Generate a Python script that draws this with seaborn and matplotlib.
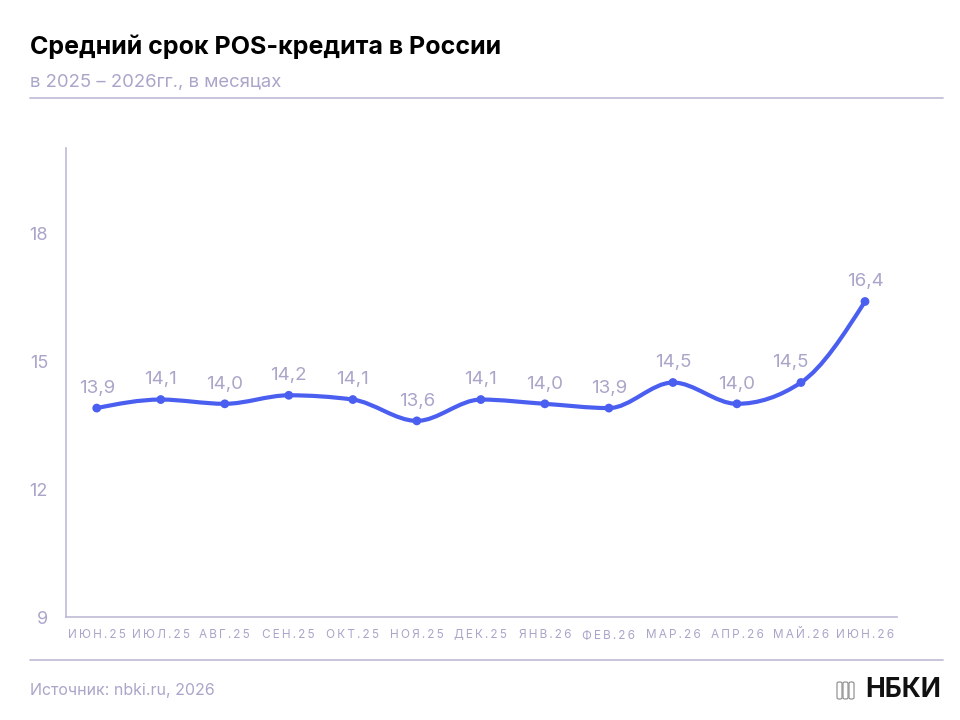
import numpy as np
import pandas as pd
import seaborn as sns
import matplotlib.pyplot as plt
from matplotlib.path import Path
from matplotlib.patches import PathPatch, FancyBboxPatch

# data
months = ['ИЮН.25', 'ИЮЛ.25', 'АВГ.25', 'СЕН.25', 'ОКТ.25', 'НОЯ.25', 'ДЕК.25',
          'ЯНВ.26', 'ФЕВ.26', 'МАР.26', 'АПР.26', 'МАЙ.26', 'ИЮН.26']
term = [13.9, 14.1, 14.0, 14.2, 14.1, 13.6, 14.1, 14.0, 13.9, 14.5, 14.0, 14.5, 16.4]
yticks = [9, 12, 15, 18]

BLUE = '#4a5ef0'
GREY = '#a9a6c9'
LINE = '#bdbad6'

sns.set_theme(style='white')
plt.rcParams['font.family'] = ['Inter', 'DejaVu Sans']

df = pd.DataFrame({'x': range(len(months)), 'y': term})

fig = plt.figure(figsize=(9.6, 7.2), dpi=100)
ax = fig.add_axes([66/960, 1-617/720, (897-66)/960, (617-148)/720])

# smooth line (monotone cubic through the points, like d3 curveMonotoneX)
x = df['x'].to_numpy(float)
y = df['y'].to_numpy(float)
h = np.diff(x)
s = np.diff(y) / h
t = np.zeros(len(x))
for i in range(1, len(x) - 1):
    p = (s[i-1]*h[i] + s[i]*h[i-1]) / (h[i-1] + h[i])
    t[i] = (np.sign(s[i-1]) + np.sign(s[i])) * min(abs(s[i-1]), abs(s[i]), 0.5*abs(p))
t[0] = (3*s[0] - t[1]) / 2
t[-1] = (3*s[-1] - t[-2]) / 2
verts = [(x[0], y[0])]
codes = [Path.MOVETO]
for i in range(len(x) - 1):
    d = h[i] / 3
    verts += [(x[i]+d, y[i]+t[i]*d), (x[i+1]-d, y[i+1]-t[i+1]*d), (x[i+1], y[i+1])]
    codes += [Path.CURVE4]*3
ax.add_patch(PathPatch(Path(verts, codes), fill=False, edgecolor=BLUE, lw=3.0,
                       capstyle='round', joinstyle='round'))
sns.scatterplot(data=df, x='x', y='y', ax=ax, color=BLUE, s=40, edgecolor='none', zorder=3)

for i, (xi, yi) in enumerate(zip(x, y)):
    dx = -8 if i == 11 else 0
    ax.annotate(f'{yi:.1f}'.replace('.', ','), (xi, yi), xytext=(dx, 8),
                textcoords='offset points', ha='center', va='bottom',
                fontsize=13.5, color=GREY)

ax.set_xlim(-0.48, 12.5)
ax.set_ylim(9, 20)
ax.set_yticks(yticks)
ax.set_yticklabels([str(v) for v in yticks], fontsize=13, color=GREY)
ax.set_xticks(x)
ax.set_xticklabels(['\u2009'.join(m) for m in months], fontsize=8.5, color=GREY)
ax.tick_params(axis='both', length=0)
ax.tick_params(axis='y', pad=13)
ax.tick_params(axis='x', pad=9)
ax.set_xlabel('')
ax.set_ylabel('')
sns.despine(ax=ax)
for sp in ['left', 'bottom']:
    ax.spines[sp].set_color(LINE)
    ax.spines[sp].set_linewidth(1.2)

# header / footer
fig.text(30/960, 1-47/720, 'Средний срок POS-кредита в России', fontsize=18,
         fontweight='bold', color='black', va='center')
fig.text(30/960, 1-82/720, 'в 2025 – 2026гг., в месяцах', fontsize=13.3,
         color=GREY, va='center')
fig.add_artist(plt.Line2D([30/960, 943/960], [1-98/720, 1-98/720], color=LINE, lw=1.2))
fig.add_artist(plt.Line2D([30/960, 943/960], [1-660/720, 1-660/720], color=LINE, lw=1.2))
fig.text(30/960, 1-690/720, 'Источник: nbki.ru, 2026', fontsize=11.5, color=GREY, va='center')
fig.text(941/960, 1-690/720, 'НБКИ', fontsize=19, fontweight='bold', color='#111111',
         va='center', ha='right')
for k in range(3):
    fig.add_artist(FancyBboxPatch(((837 + k*6)/960, 1-699/720), 5/960, 17/720,
                                  boxstyle='round,pad=0,rounding_size=0.002',
                                  transform=fig.transFigure, fill=False,
                                  edgecolor='#888888', lw=0.8))

fig.savefig('out.png', dpi=100)
